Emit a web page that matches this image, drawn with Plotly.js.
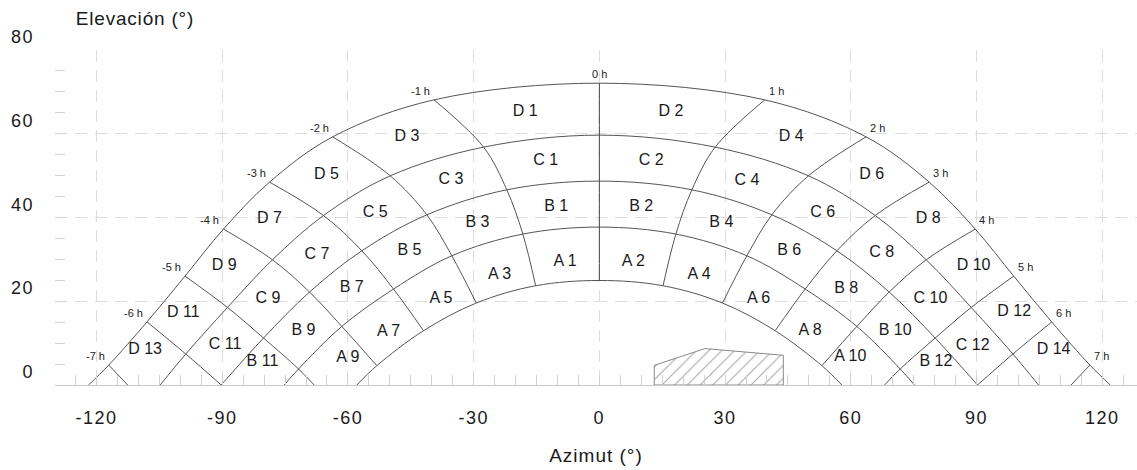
<!DOCTYPE html>
<html><head><meta charset="utf-8">
<script src="https://cdn.plot.ly/plotly-3.0.1.min.js"></script>
<style>
html,body{margin:0;padding:0;background:#fff;overflow:hidden}
.xtick text,.ytick text{letter-spacing:1.5px}
.xtitle{letter-spacing:1px}
.annotation[data-index="0"] text{letter-spacing:0.8px}
</style></head><body><div id="chart" style="width:1137px;height:470px"></div>
<script>
// Right half of the diagram (azimut >= 0); the left half is its mirror image.
// Intersections of each elevation arc with hour lines 0 h, 1 h, 2 h ...
const arcA_x  = [0, 15.20, 29.38, 41.96, 53.10];
const arcA_y  = [24.96, 23.70, 19.57, 12.96, 4.61];
const arcAB_x = [0, 18.26, 35.20, 49.12, 61.46, 71.79];
const arcAB_y = [37.71, 36.04, 30.86, 22.91, 13.99, 3.82];
const arcBC_x = [0, 22.08, 41.17, 56.68, 69.16, 80.14];
const arcBC_y = [48.69, 46.61, 40.64, 32.05, 22.20, 11.22];
const arcCD_x = [0, 27.64, 49.90, 65.82, 78.00, 88.74, 98.69];
const arcCD_y = [59.67, 56.80, 49.95, 40.48, 29.90, 18.52, 7.40];
const arcTop_x = [0, 39.47, 63.65, 78.71, 89.70, 98.88, 107.95, 117.07];
const arcTop_y = [72.08, 68.09, 59.26, 48.45, 37.23, 26.00, 15.06, 4.76];
// Azimut where each arc reaches the horizon (A, A/B, B/C, C/D, top)
const arcEndX = [57.88, 75.20, 90.24, 104.80, 121.91];
// Azimut where hour lines 5 h, 6 h, 7 h reach the horizon
const hourFootHours = [5, 6, 7];
const hourFootX = [68.04, 90.24, 112.55];

// Region labels
const regionNames = ["D 1","D 2","D 3","D 4","D 5","D 6","C 1","C 2","C 3","C 4","B 1","B 2","B 3","B 4",
  "C 5","C 6","D 7","D 8","B 5","B 6","C 7","C 8","A 1","A 2","D 9","D 10","A 3","A 4","B 7","B 8",
  "A 5","A 6","C 9","C 10","D 11","D 12","A 7","A 8","B 9","B 10","C 11","C 12","D 13","D 14",
  "A 9","A 10","B 11","B 12"];
const regionX = [-17.7,17.1,-45.9,45.8,-65.1,65.0,-12.8,12.4,-35.4,35.2,-10.3,10.0,-29.1,29.1,
  -53.5,53.3,-78.7,78.5,-45.3,45.3,-67.4,67.4,-8.2,8.1,-89.5,89.3,-23.8,23.8,-59.1,58.9,
  -37.8,38.0,-79.1,79.0,-99.3,99.0,-50.3,50.3,-70.6,70.6,-89.3,89.1,-108.4,108.4,
  -60.0,59.9,-80.4,80.3];
const regionY = [65.1,65.1,59.3,59.2,50.2,50.2,53.4,53.4,49.0,48.6,42.4,42.4,38.7,38.7,
  41.1,41.1,39.6,39.6,31.9,31.9,31.1,31.5,29.3,29.3,28.5,28.5,26.2,26.2,23.2,22.9,
  20.6,20.6,20.6,20.5,17.3,17.4,12.7,12.8,12.8,13.0,9.6,9.4,8.3,8.3,
  6.4,6.6,5.4,5.4];

// Obstacle (hatched)
const obstacleX = [13.1, 13.1, 25.2, 43.9, 43.9, 13.1];
const obstacleY = [0, 4.7, 8.7, 7.1, 0, 0];

const xTicks = [-120,-90,-60,-30,0,30,60,90,120];
const yTicks = [0,20,40,60,80];

const LINE = {color:'#555555', width:1, shape:'spline', smoothing:1};
const traces = [];

traces.push({type:'scatter', mode:'lines', x:obstacleX, y:obstacleY, fill:'toself',
  fillcolor:'rgba(255,255,255,0)',
  fillpattern:{shape:'/', size:9, solidity:0.12, fgcolor:'#a8a8a8', bgcolor:'#ffffff'},
  line:{color:'#8a8a8a', width:1}, hoverinfo:'skip', showlegend:false});

const arcs = [[arcA_x,arcA_y],[arcAB_x,arcAB_y],[arcBC_x,arcBC_y],[arcCD_x,arcCD_y],[arcTop_x,arcTop_y]];
arcs.forEach(([ax,ay],k)=>{
  const rx = ax.concat([arcEndX[k]]), ry = ay.concat([0]);
  const x = rx.slice(1).reverse().map(v=>-v).concat(rx);
  const y = ry.slice(1).reverse().concat(ry);
  traces.push({type:'scatter', mode:'lines', x, y, line:LINE, hoverinfo:'skip', showlegend:false});
});

for (let h=0; h<arcTop_x.length; h++){
  const hx=[], hy=[];
  const fi = hourFootHours.indexOf(h);
  if (fi>=0){ hx.push(hourFootX[fi]); hy.push(0); }
  arcs.forEach(([ax,ay])=>{ if (h<ax.length){ hx.push(ax[h]); hy.push(ay[h]); } });
  const sides = h===0 ? [1] : [1,-1];
  sides.forEach(s=>{
    traces.push({type:'scatter', mode:'lines', x:hx.map(v=>v*s), y:hy,
      line:Object.assign({}, LINE, h===0?{color:'#444'}:{}), hoverinfo:'skip', showlegend:false});
  });
}

traces.push({type:'scatter', mode:'text', x:regionX, y:regionY, text:regionNames,
  textfont:{family:'Liberation Sans, Arial, sans-serif', size:16, color:'#1a1a1a'},
  hoverinfo:'skip', showlegend:false});

const annotations = [{
  text:'Elevación (°)', xref:'paper', yref:'paper', x:0, y:1, xanchor:'left', yanchor:'middle',
  xshift:24, yshift:32, showarrow:false,
  font:{family:'Liberation Sans, Arial, sans-serif', size:19, color:'#1a1a1a'}
}];
for (let h=0; h<arcTop_x.length; h++){
  const sides = h===0 ? [0] : [1,-1];
  sides.forEach(s=>{
    annotations.push({
      text: (s<0?'-':'') + h + ' h', x: arcTop_x[h]*(s===0?1:s), y: arcTop_y[h],
      xref:'x', yref:'y', showarrow:false,
      xanchor: s===0?'center':(s>0?'left':'right'), yanchor:'middle',
      xshift: s===0?0:(s>0?2:-2), yshift:9,
      font:{family:'Liberation Sans, Arial, sans-serif', size:11, color:'#222'}
    });
  });
}

const axisCommon = {
  showgrid:true, gridcolor:'#dcdcdc', gridwidth:1, griddash:'12px,8px',
  zeroline:false, ticks:'inside', ticklen:10, tickcolor:'#d2d2d2', tickwidth:1,
  minor:{dtick:5, ticks:'inside', ticklen:10, tickcolor:'#d2d2d2', tickwidth:1, showgrid:false},
  tickfont:{family:'Liberation Sans, Arial, sans-serif', size:18, color:'#1a1a1a'},
  fixedrange:true, automargin:false
};

const layout = {
  width:1137, height:470,
  margin:{l:55, r:0, t:50, b:84.7},
  paper_bgcolor:'#fff', plot_bgcolor:'#fff',
  showlegend:false,
  xaxis:Object.assign({}, axisCommon, {
    range:[-129.9, 128.3], tickmode:'array', tickvals:xTicks, ticktext:xTicks.map(String),
    showline:true, linecolor:'#c8c8c8', linewidth:1, ticklabelstandoff:16,
    title:{text:'Azimut (°)', standoff:22, font:{family:'Liberation Sans, Arial, sans-serif', size:19, color:'#1a1a1a'}}
  }),
  yaxis:Object.assign({}, axisCommon, {
    range:[0, 80], tickmode:'array', tickvals:yTicks, ticktext:yTicks.map(String),
    showline:false, ticklabelposition:'outside top', ticklabelstandoff:20
  }),
  annotations
};

Plotly.newPlot('chart', traces, layout, {displayModeBar:false, staticPlot:true});
</script></body></html>
